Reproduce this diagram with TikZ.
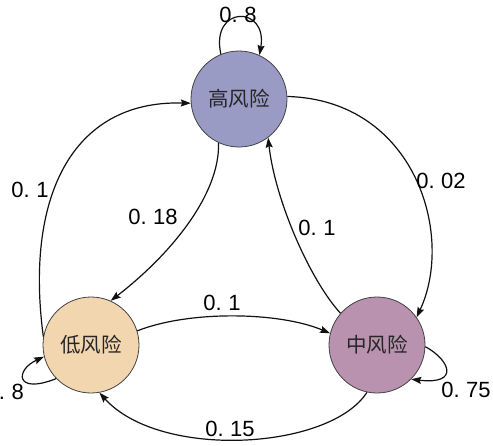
\documentclass[tikz,border=0pt]{standalone}
\usepackage{fontspec}
\setmainfont{Liberation Sans}
\newfontfamily\cjk{Noto Sans CJK SC}
\usetikzlibrary{arrows.meta}
\definecolor{hiC}{HTML}{9A9BC4}
\definecolor{loC}{HTML}{F2D6B0}
\definecolor{miC}{HTML}{B992B0}
\definecolor{lineC}{HTML}{111111}
\newcommand{\dg}{\hspace{0.3em}}
\tikzset{
  statenode/.style={circle, draw=lineC!80, line width=0.8pt, minimum size=96pt, inner sep=0pt,
    font=\cjk\fontsize{20.5pt}{22pt}\selectfont, text=black!85},
  edge/.style={draw=lineC, line width=1.2pt, -{Stealth[length=10pt,width=7pt,inset=1.5pt]}},
  prob/.style={font=\fontsize{22pt}{24pt}\selectfont, text=black, inner sep=0pt}
}
\begin{document}
\begin{tikzpicture}[x=1pt,y=-1pt]
\useasboundingbox[fill=white] (0,0) rectangle (493,445);
\node[statenode, fill=hiC] (hi) at (239,99) {高风险};
\node[statenode, fill=loC] (lo) at (91,345) {低风险};
\node[statenode, fill=miC] (mi) at (377,345) {中风险};
% self loops
\draw[edge] (hi.112) .. controls (210,5) and (268,5) .. (hi.65);
\draw[edge] (lo.224) .. controls (15,395) and (15,370) .. (lo.194);
\draw[edge] (mi.-2) .. controls (450,360) and (460,385) .. (mi.-45);
% transitions
\draw[edge] (hi.3) .. controls (415,100) and (455,235) .. (mi.35);
\draw[edge] (mi.139) .. controls (310,280) and (275,200) .. (hi.-53);
\draw[edge] (lo.170) .. controls (25,200) and (70,100) .. (hi.185);
\draw[edge] (hi.245) .. controls (220,195) and (170,255) .. (lo.66);
\draw[edge] (lo.17) .. controls (190,310) and (280,312) .. (mi.166);
\draw[edge] (mi.258) .. controls (330,450) and (160,460) .. (lo.280);
% labels
\node[prob] (l1) at (238,15) {0.\dg8};
\node[prob, anchor=east] (l2) at (24,392) {0.\dg8};
\node[prob] (l3) at (466,390) {0.\dg75};
\node[prob] (l4) at (441,181) {0.\dg02};
\node[prob] (l5) at (317,228) {0.\dg1};
\node[prob] (l6) at (30,190) {0.\dg1};
\node[prob] (l7) at (153,217) {0.\dg18};
\node[prob] (l8) at (222,303) {0.\dg1};
\node[prob] (l9) at (230,429) {0.\dg15};
\end{tikzpicture}
\end{document}
